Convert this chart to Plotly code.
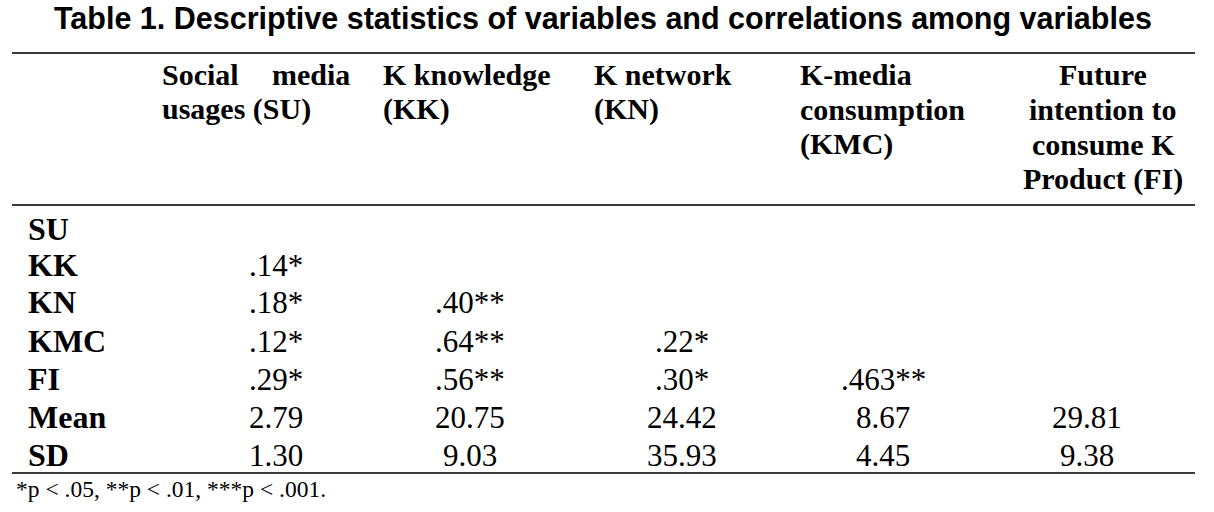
import plotly.graph_objects as go

# ---- data ----
title_text = "Table 1. Descriptive statistics of variables and correlations among variables"
header_su = ["Social", "media", "usages (SU)"]
header_kk = ["K knowledge", "(KK)"]
header_kn = ["K network", "(KN)"]
header_kmc = ["K-media", "consumption", "(KMC)"]
header_fi = ["Future", "intention to", "consume K", "Product (FI)"]
row_labels = ["SU", "KK", "KN", "KMC", "FI", "Mean", "SD"]
col_su = ["", ".14*", ".18*", ".12*", ".29*", "2.79", "1.30"]
col_kk = ["", "", ".40**", ".64**", ".56**", "20.75", "9.03"]
col_kn = ["", "", "", ".22*", ".30*", "24.42", "35.93"]
col_kmc = ["", "", "", "", ".463**", "8.67", "4.45"]
col_fi = ["", "", "", "", "", "29.81", "9.38"]
footnote = "*p < .05, **p < .01, ***p < .001."

# ---- layout (pixel-like axis units) ----
W, H = 1214, 512
serif = "Liberation Serif"
sans = "Liberation Sans"
hdr_y = [74, 109, 144, 179]
row_y = [229, 265, 302, 341, 379, 417, 455]
col_x = [276, 470, 682, 883, 1087]
rule_y = [53, 205, 473]
rule_x = (12, 1195)

fig = go.Figure()
fig.add_trace(go.Scatter(x=[0, W], y=[0, H], mode="markers",
                         marker=dict(opacity=0), hoverinfo="skip", showlegend=False))

ann = []
def txt(x, y, s, size=31, bold=False, anchor="center", family=serif):
    ann.append(dict(x=x, y=y, xref="x", yref="y", text=s, showarrow=False,
                    xanchor=anchor, yanchor="middle", borderpad=0,
                    font=dict(family=family, size=size, color="black",
                              weight=700 if bold else 400)))

txt(603, 18, title_text, size=30.5, bold=True, family=sans)

# header
hs = 30
txt(161, hdr_y[0], header_su[0], size=hs, bold=True, anchor="left")
txt(351, hdr_y[0], header_su[1], size=hs, bold=True, anchor="right")
txt(161, hdr_y[1], header_su[2], size=hs, bold=True, anchor="left")
for i, s in enumerate(header_kk):
    txt(382, hdr_y[i], s, size=hs, bold=True, anchor="left")
for i, s in enumerate(header_kn):
    txt(593, hdr_y[i], s, size=hs, bold=True, anchor="left")
for i, s in enumerate(header_kmc):
    txt(799, hdr_y[i], s, size=hs, bold=True, anchor="left")
for i, s in enumerate(header_fi):
    txt(1103, hdr_y[i], s, size=hs, bold=True, anchor="center")

# body
for r, lab in enumerate(row_labels):
    txt(27, row_y[r], lab, size=32, bold=True, anchor="left")
for c, col in enumerate([col_su, col_kk, col_kn, col_kmc, col_fi]):
    for r, v in enumerate(col):
        if v:
            txt(col_x[c], row_y[r], v, size=31, anchor="center")

txt(15, 489, footnote, size=23.5, anchor="left")

shapes = [dict(type="line", xref="x", yref="y", x0=rule_x[0], x1=rule_x[1], y0=y, y1=y,
               line=dict(color="#3a3a3a", width=2)) for y in rule_y]

fig.update_layout(
    width=W, height=H, margin=dict(l=0, r=0, t=0, b=0),
    paper_bgcolor="white", plot_bgcolor="white",
    xaxis=dict(range=[0, W], visible=False, fixedrange=True),
    yaxis=dict(range=[H, 0], visible=False, fixedrange=True),
    annotations=ann, shapes=shapes, showlegend=False,
)
fig.write_html("out.html", config={"displayModeBar": False},
               post_script="document.body.style.margin='0';document.body.style.overflow='hidden';")
